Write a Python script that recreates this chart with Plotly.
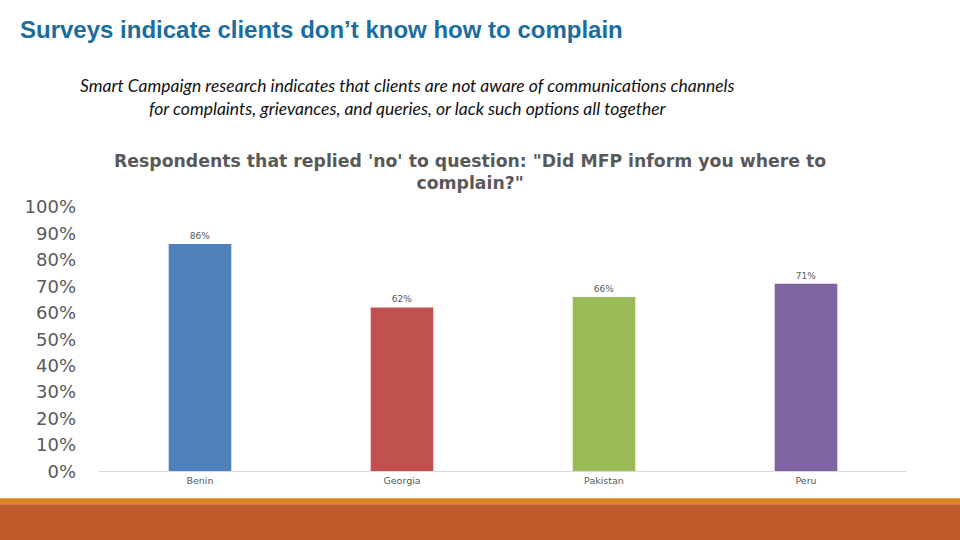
import plotly.graph_objects as go

# chart data
countries = ["Benin", "Georgia", "Pakistan", "Peru"]
share_no = [0.86, 0.62, 0.66, 0.71]
bar_colors = ["#4F81BD", "#C0504D", "#9BBB59", "#8064A2"]
tick_vals = [i / 10 for i in range(11)]
tick_text = [f"{i * 10}%" for i in range(11)]

W = 960
FIG_H = 561
# the captured page shows rows with a small top offset and a slight vertical squeeze
Y_OFF, Y_SCALE = 10, 0.962


def py(y):
    # slide pixel row -> paper fraction
    return 1 - ((y - Y_OFF) / Y_SCALE) / FIG_H


fig = go.Figure()
fig.add_trace(go.Bar(
    x=countries,
    y=share_no,
    marker=dict(color=bar_colors, line=dict(width=0)),
    width=0.31,
    text=[f"{v:.0%}" for v in share_no],
    textposition="outside",
    textfont=dict(family="DejaVu Sans", size=9, color="#595959"),
    cliponaxis=False,
    hoverinfo="skip",
))

fig.update_layout(
    width=W, height=FIG_H,
    autosize=False,
    margin=dict(l=0, r=0, t=0, b=0),
    paper_bgcolor="white",
    plot_bgcolor="white",
    showlegend=False,
    xaxis=dict(
        domain=[99 / W, 907 / W],
        showline=True, linecolor="#D9D9D9", linewidth=1,
        showgrid=False, ticks="",
        tickfont=dict(family="DejaVu Sans", size=9.5, color="#595959"),
        ticklabelstandoff=0,
    ),
    yaxis=dict(
        domain=[py(470), py(206)],
        range=[0, 1],
        tickvals=tick_vals, ticktext=tick_text,
        showgrid=False, zeroline=False, showline=False,
        tickfont=dict(family="DejaVu Sans", size=18, color="#595959"),
        ticklabelstandoff=22,
    ),
)

# page title and subtitle
fig.add_annotation(
    x=18 / W, y=py(28), xref="paper", yref="paper",
    xanchor="left", yanchor="middle", showarrow=False,
    text="<b>Surveys indicate clients don\u2019t know how to complain</b>",
    font=dict(family="Liberation Sans", size=24, color="#1A6DA0"),
)
fig.add_annotation(
    x=407 / W, y=py(96), xref="paper", yref="paper",
    xanchor="center", yanchor="middle", showarrow=False,
    text="<i>Smart Campaign research indicates that clients are not aware of communications channels<br>"
         "for complaints, grievances, and queries, or lack such options all together</i>",
    font=dict(family="Lato", size=17.5, color="#111111"),
    align="center",
)
# chart title
fig.add_annotation(
    x=470 / W, y=py(171), xref="paper", yref="paper",
    xanchor="center", yanchor="middle", showarrow=False,
    text="<b>Respondents that replied 'no' to question: \"Did MFP inform you where to<br>complain?\"</b>",
    font=dict(family="DejaVu Sans", size=17.3, color="#595959"),
    align="center",
)

# footer strips
fig.add_shape(type="rect", xref="paper", yref="paper", x0=0, x1=1,
              y0=py(503), y1=py(497), fillcolor="#E0861E", line_width=0, layer="below")
fig.add_shape(type="rect", xref="paper", yref="paper", x0=0, x1=1,
              y0=0, y1=py(503), fillcolor="#BE592A", line_width=0, layer="below")

fig.write_html("out.html", config={"displayModeBar": False},
               post_script="document.body.style.margin='0';")
